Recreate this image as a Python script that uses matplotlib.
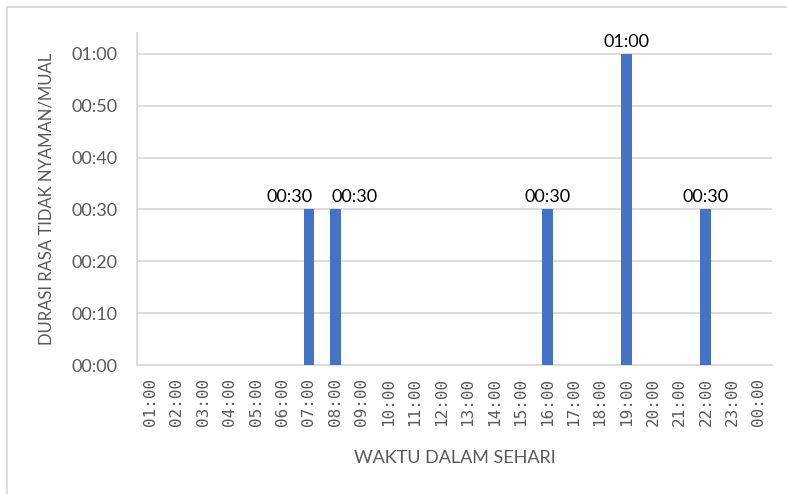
import matplotlib.pyplot as plt
from matplotlib.patches import Rectangle
from matplotlib.ticker import FuncFormatter, MultipleLocator

# jam dalam sehari dan durasi (menit) rasa tidak nyaman/mual
jam = ['01:00', '02:00', '03:00', '04:00', '05:00', '06:00', '07:00', '08:00',
       '09:00', '10:00', '11:00', '12:00', '13:00', '14:00', '15:00', '16:00',
       '17:00', '18:00', '19:00', '20:00', '21:00', '22:00', '23:00', '00:00']
durasi = [0, 0, 0, 0, 0, 0, 30, 30, 0, 0, 0, 0, 0, 0, 0, 30, 0, 0, 60, 0, 0, 30, 0, 0]


def fmt_menit(m):
    m = int(round(m))
    return '%02d:%02d' % (m // 60, m % 60)


grey = '#595959'
fig = plt.figure(figsize=(7.87, 4.94), dpi=100)
ax = fig.add_axes([0.174, 0.261, 0.807, 0.672])

x = list(range(len(jam)))
bars = ax.bar(x, durasi, width=0.41, color='#4472c4', zorder=3)

# label nilai; label yang berdempetan digeser ke kiri/kanan
for i, (b, v) in enumerate(zip(bars, durasi)):
    if v <= 0:
        continue
    dx = 0
    if i + 1 < len(durasi) and durasi[i + 1] > 0:
        dx = -14
    elif i > 0 and durasi[i - 1] > 0:
        dx = 14
    ax.annotate(fmt_menit(v), (b.get_x() + b.get_width() / 2, v),
                xytext=(dx, 3), textcoords='offset points',
                ha='center', va='bottom', fontsize=13, family='Lato', color='black')

ax.set_xlim(-0.5, len(jam) - 0.5)
ax.set_ylim(0, 64)
ax.yaxis.set_major_locator(MultipleLocator(10))
ax.yaxis.set_major_formatter(FuncFormatter(lambda v, p: fmt_menit(v)))
ax.grid(axis='y', color='#d9d9d9', linewidth=1.3, zorder=0)

ax.set_xticks(x)
ax.set_xticklabels(jam, rotation=90, family='DejaVu Sans Mono', fontsize=11.5, color=grey)
for lbl in ax.get_yticklabels():
    lbl.set_family('Lato')
    lbl.set_fontsize(13)
    lbl.set_color(grey)
ax.tick_params(axis='y', length=0, pad=14)
ax.tick_params(axis='x', length=0, pad=9)

for s in ['top', 'right']:
    ax.spines[s].set_visible(False)
for s in ['left', 'bottom']:
    ax.spines[s].set_color('#d9d9d9')
    ax.spines[s].set_linewidth(1.3)

ax.set_xlabel('WAKTU DALAM SEHARI', family='Lato', fontsize=13, color=grey)
ax.set_ylabel('DURASI RASA TIDAK NYAMAN/MUAL', family='Lato', fontsize=12, color=grey)
ax.xaxis.set_label_coords(0.5, -0.256)
ax.yaxis.set_label_coords(-0.13, 0.5)

# bingkai area grafik
fig.patches.append(Rectangle((7 / 787, -0.05), 1.2, 1 - 7 / 494 + 0.05,
                             transform=fig.transFigure, fill=False,
                             edgecolor='#d9d9d9', linewidth=1.3))

fig.savefig('out.png', dpi=100)
